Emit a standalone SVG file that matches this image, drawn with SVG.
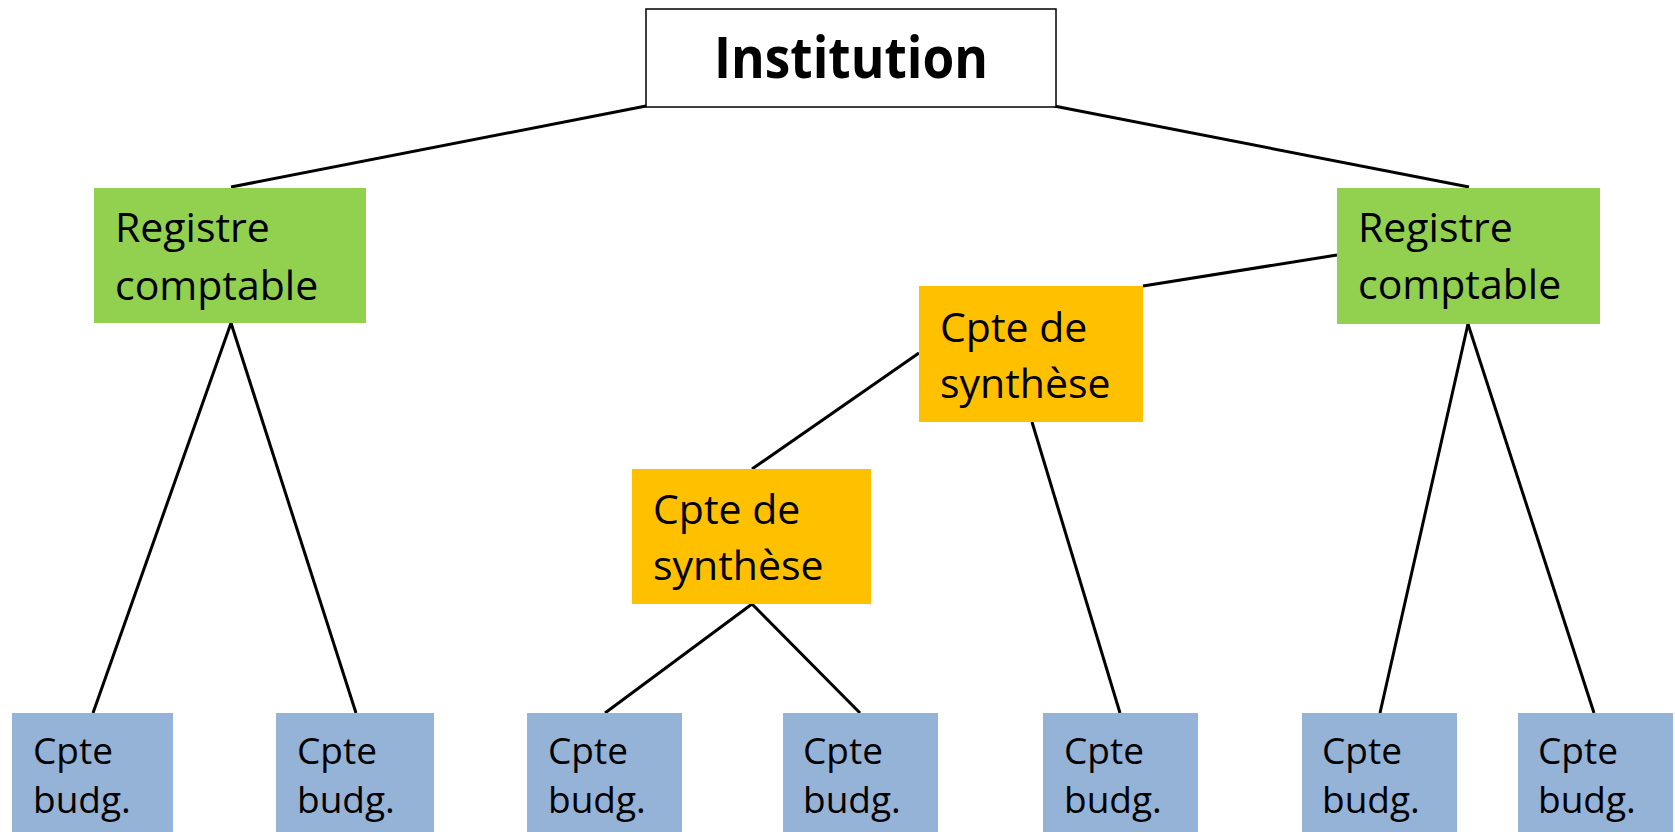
<svg xmlns="http://www.w3.org/2000/svg" width="1675" height="832" viewBox="0 0 1675 832">
<style>
.conn line{stroke:#000;stroke-width:3;stroke-linecap:butt}
.t{font-family:"Open Sans","Noto Sans","Liberation Sans",sans-serif;fill:#000}
.lg{font-size:41px}
.sm{font-size:37px}
.green{fill:#92D050}
.orange{fill:#FFC000}
.blue{fill:#95B3D7}
</style>
<rect width="1675" height="832" fill="#fff"/>
<g class="conn" id="connectors">
<line x1="646" y1="106" x2="231" y2="187"/>
<line x1="1054" y1="106" x2="1469" y2="187"/>
<line x1="1337" y1="255" x2="1143" y2="286"/>
<line x1="919" y1="353" x2="752" y2="469"/>
<line x1="1032" y1="422" x2="1120" y2="713"/>
<line x1="752" y1="604" x2="605" y2="713"/>
<line x1="752" y1="604" x2="860" y2="713"/>
<line x1="231" y1="323" x2="93" y2="713"/>
<line x1="231" y1="323" x2="356" y2="713"/>
<line x1="1468" y1="324" x2="1380" y2="713"/>
<line x1="1468" y1="324" x2="1594" y2="713"/>
</g>
<g id="institution">
<rect x="646" y="9" width="410" height="98" fill="#fff" stroke="#000" stroke-width="1.5"/>
<text class="t" x="851" y="78" text-anchor="middle" font-size="57" font-weight="bold" textLength="274" lengthAdjust="spacingAndGlyphs">Institution</text>
</g>
<g id="registre-left">
<rect class="green" x="94" y="188" width="272" height="135"/>
<text class="t lg" x="115" y="242">Registre</text>
<text class="t lg" x="115" y="300">comptable</text>
</g>
<g id="registre-right">
<rect class="green" x="1337" y="188" width="263" height="136"/>
<text class="t lg" x="1358" y="242">Registre</text>
<text class="t lg" x="1358" y="299">comptable</text>
</g>
<g id="synthese-1">
<rect class="orange" x="919" y="286" width="224" height="136"/>
<text class="t lg" x="940" y="342">Cpte de</text>
<text class="t lg" x="940" y="398">synthèse</text>
</g>
<g id="synthese-2">
<rect class="orange" x="632" y="469" width="239" height="135"/>
<text class="t lg" x="653" y="524">Cpte de</text>
<text class="t lg" x="653" y="580">synthèse</text>
</g>
<g id="budg-1">
<rect class="blue" x="12" y="713" width="161" height="125"/>
<text class="t sm" x="33" y="764">Cpte</text>
<text class="t sm" x="33" y="813">budg.</text>
</g>
<g id="budg-2">
<rect class="blue" x="276" y="713" width="158" height="125"/>
<text class="t sm" x="297" y="764">Cpte</text>
<text class="t sm" x="297" y="813">budg.</text>
</g>
<g id="budg-3">
<rect class="blue" x="527" y="713" width="155" height="125"/>
<text class="t sm" x="548" y="764">Cpte</text>
<text class="t sm" x="548" y="813">budg.</text>
</g>
<g id="budg-4">
<rect class="blue" x="783" y="713" width="155" height="125"/>
<text class="t sm" x="803" y="764">Cpte</text>
<text class="t sm" x="803" y="813">budg.</text>
</g>
<g id="budg-5">
<rect class="blue" x="1043" y="713" width="155" height="125"/>
<text class="t sm" x="1064" y="764">Cpte</text>
<text class="t sm" x="1064" y="813">budg.</text>
</g>
<g id="budg-6">
<rect class="blue" x="1302" y="713" width="155" height="125"/>
<text class="t sm" x="1322" y="764">Cpte</text>
<text class="t sm" x="1322" y="813">budg.</text>
</g>
<g id="budg-7">
<rect class="blue" x="1518" y="713" width="155" height="125"/>
<text class="t sm" x="1538" y="764">Cpte</text>
<text class="t sm" x="1538" y="813">budg.</text>
</g>
</svg>
